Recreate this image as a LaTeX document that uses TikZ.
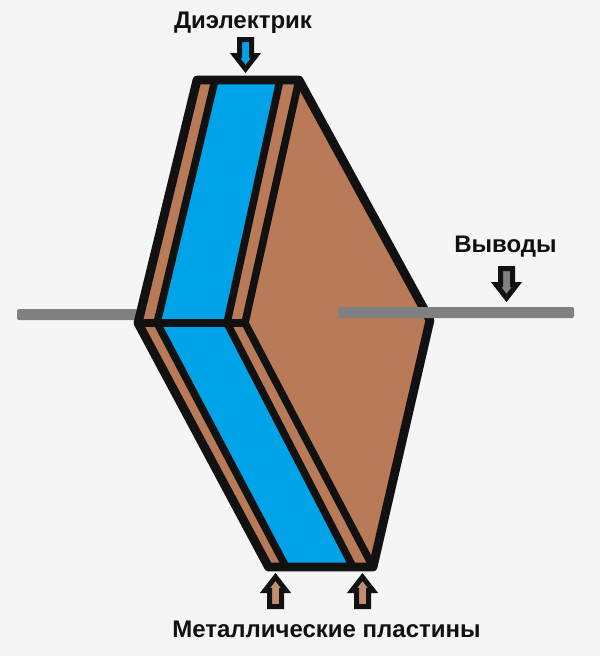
\documentclass[tikz,border=0pt]{standalone}
\usepackage{fontspec}
\setmainfont{Liberation Sans}
\definecolor{bgc}{HTML}{F5F5F5}
\definecolor{copperc}{HTML}{B97A57}
\definecolor{bluec}{HTML}{00A2E8}
\definecolor{leadc}{HTML}{808080}
\definecolor{inkc}{HTML}{111111}
\tikzset{
  frameline/.style={draw=inkc,line width=8.8pt,line join=round,line cap=round},
  thinframe/.style={draw=inkc,line width=7.5pt,line join=round,line cap=round},
  lbl/.style={font=\bfseries\fontsize{24}{26}\selectfont,text=inkc,inner sep=0pt},
  pointer/.style={draw=inkc,line width=5pt,line join=miter,miter limit=10},
  lead/.style={fill=leadc,draw=none,rounded corners=1.5pt}
}
\newcommand{\downptr}[3]{% x, top y, colour
  \draw[pointer,fill=#3] (#1-6,#2+2) -- (#1+6,#2+2) -- (#1+6,#2+18) -- (#1+10.5,#2+18) -- (#1,#2+31.5) -- (#1-10.5,#2+18) -- (#1-6,#2+18) -- cycle;
}
\newcommand{\upptr}[3]{% x, bottom y, colour
  \draw[pointer,fill=#3] (#1-6,#2-2) -- (#1+6,#2-2) -- (#1+6,#2-18) -- (#1+10.5,#2-18) -- (#1,#2-31.5) -- (#1-10.5,#2-18) -- (#1-6,#2-18) -- cycle;
}
\begin{document}
\begin{tikzpicture}[x=1pt,y=-1pt]
\fill[bgc] (0,0) rectangle (600,656);
\useasboundingbox (0,0) rectangle (600,656);
% left lead (behind)
\fill[lead] (17,309) rectangle (138,320);
% copper body
\fill[copperc] (197,80) -- (299,80) -- (430,320) -- (373,567) -- (268.5,567) -- (138,323) -- cycle;
% dielectric
\fill[bluec] (215,80) -- (280,80) -- (227,323) -- (353,567) -- (286,567) -- (157,323) -- cycle;
% inner lines
\draw[thinframe] (215,80) -- (157,323) -- (286,567);
\draw[thinframe] (280,80) -- (227,323) -- (353,567);
\draw[thinframe] (299,80) -- (245,323) -- (373,567);
\draw[thinframe] (138,323) -- (245,323);
% outer frame
\draw[frameline] (197,80) -- (299,80) -- (430,320) -- (373,567) -- (268.5,567) -- (138,323) -- cycle;
% right lead
\fill[lead] (338,307) rectangle (574,318);
% pointers
\downptr{245.5}{37.5}{bluec}
\downptr{506.5}{266.5}{leadc}
\upptr{275.5}{608.5}{copperc!85!white}
\upptr{362.5}{608.5}{copperc!85!white}
% labels
\node[lbl] (dielectric) at (243,23) {Диэлектрик};
\node[lbl] (terminals) at (505.5,246.5) {Выводы};
\node[lbl] (plates) at (326.5,629) {Металлические пластины};
\end{tikzpicture}
\end{document}
